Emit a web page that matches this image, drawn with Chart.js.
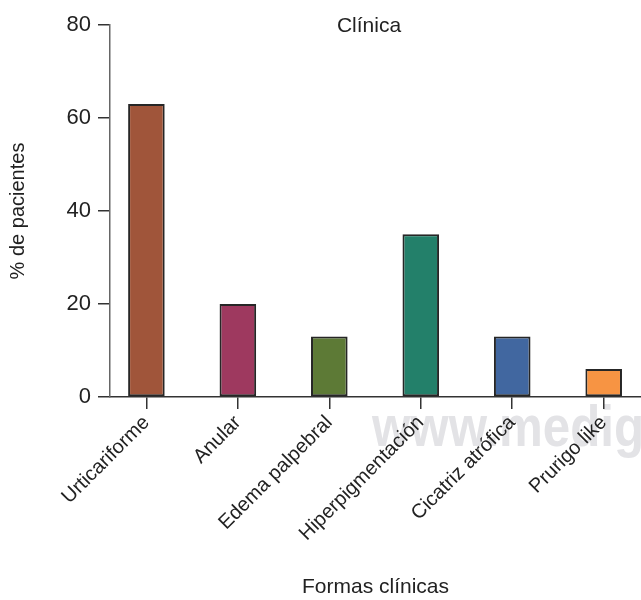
<!DOCTYPE html>
<html>
<head>
<meta charset="utf-8">
<script src="https://cdn.jsdelivr.net/npm/chart.js@4/dist/chart.umd.min.js"></script>
<style>
    html, body { margin: 0; padding: 0; background: #fff; }
    #wrap { width: 641px; height: 600px; }
</style>
</head>
<body>
<div id="wrap"><canvas id="chart"></canvas></div>
<script>
// ================= DATA =================
const categories = ["Urticariforme", "Anular", "Edema palpebral", "Hiperpigmentación", "Cicatriz atrófica", "Prurigo like"];
const percentages = [63, 20, 13, 35, 13, 6];
const barColors = ["#A0553A", "#9E395F", "#5D7A36", "#23806A", "#4167A0", "#F79443"];
const yTicks = [0, 20, 40, 60, 80];

const FONT = "'Liberation Sans', Arial, sans-serif";
const TEXT = "#222";

// ================= EXTRA TEXT (title + watermark) =================
const extraText = {
    id: "extraText",
    beforeDraw(chart) {
        const ctx = chart.ctx;
        ctx.save();
        ctx.fillStyle = "#e3e3e6";
        ctx.font = "bold 58px " + FONT;
        ctx.textBaseline = "alphabetic";
        ctx.scale(0.85, 1);
        ctx.fillText("www.medigraphic.com", 372 / 0.85, 446);
        ctx.restore();
    },
    afterDraw(chart) {
        const ctx = chart.ctx;
        const area = chart.chartArea;
        ctx.save();
        ctx.fillStyle = TEXT;
        ctx.font = "21px " + FONT;
        ctx.textAlign = "center";
        ctx.textBaseline = "middle";
        ctx.fillText("Clínica", area.left + 259, area.top + 1);
        ctx.restore();
    }
};

// ================= CHART =================
const ctx = document.getElementById("chart");

new Chart(ctx, {
    type: "bar",
    data: {
        datasets: [{
            data: percentages.map((v, i) => ({ x: i, y: v })),
            backgroundColor: barColors,
            borderColor: "#262626",
            borderWidth: 2,
            borderSkipped: false,
            categoryPercentage: 1,
            barPercentage: 0.4
        }]
    },
    options: {
        responsive: true,
        maintainAspectRatio: false,
        animation: false,
        layout: { padding: { top: 25, right: 0, left: 0, bottom: 0 } },
        plugins: {
            legend: { display: false },
            tooltip: { enabled: false }
        },
        scales: {
            x: {
                type: "linear",
                min: -0.398,
                max: 5.408,
                offset: false,
                grid: { offset: false, drawOnChartArea: false, drawTicks: true, tickLength: 12, color: "#333", lineWidth: 1.5 },
                border: { display: true, color: "#333", width: 1.5 },
                afterBuildTicks: axis => {
                    axis.ticks = categories.map((c, i) => ({ value: i }));
                },
                afterFit: axis => { axis.height = 203; },
                ticks: {
                    autoSkip: false,
                    minRotation: 45,
                    maxRotation: 45,
                    padding: 2,
                    color: TEXT,
                    font: { family: FONT, size: 20 },
                    callback: value => categories[value] ?? ""
                },
                title: {
                    display: true,
                    text: "Formas clínicas",
                    color: TEXT,
                    font: { family: FONT, size: 21 },
                    padding: { top: 0, bottom: 0 }
                }
            },
            y: {
                min: 0,
                max: 80,
                afterBuildTicks: axis => {
                    axis.ticks = yTicks.map(v => ({ value: v }));
                },
                afterFit: axis => { axis.width = 110; },
                grid: { drawOnChartArea: false, drawTicks: true, tickLength: 12, color: "#333", lineWidth: 1.5 },
                border: { display: true, color: "#666", width: 1.5 },
                ticks: {
                    padding: 7,
                    color: TEXT,
                    font: { family: FONT, size: 22 }
                },
                title: {
                    display: true,
                    text: "% de pacientes",
                    color: TEXT,
                    font: { family: FONT, size: 20 },
                    padding: { top: 6, bottom: 0 }
                }
            }
        }
    },
    plugins: [extraText]
});
</script>
</body>
</html>
